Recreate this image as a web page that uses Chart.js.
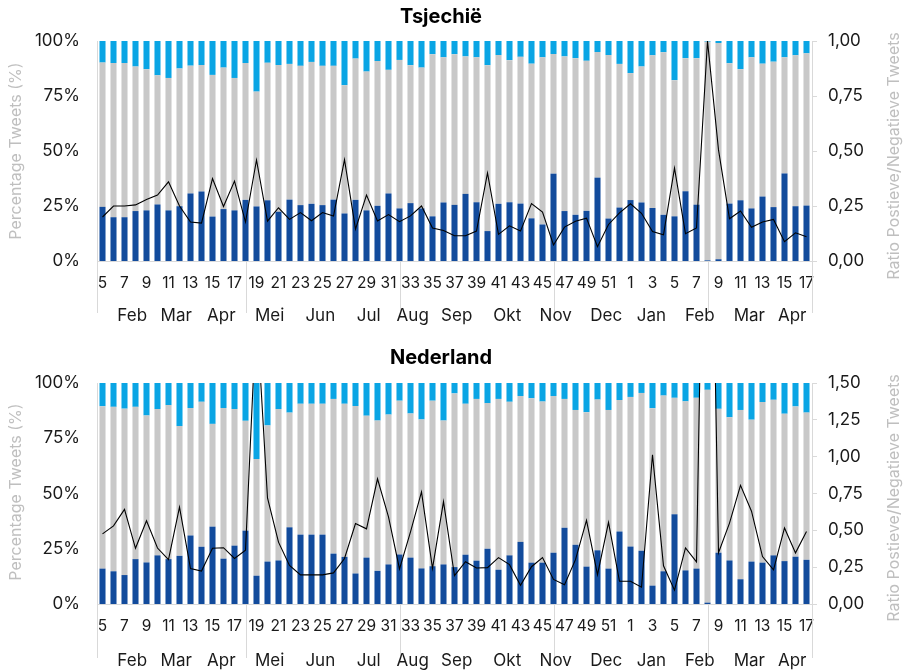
<!DOCTYPE html>
<html>
<head>
<meta charset="utf-8">
<script src="https://cdn.jsdelivr.net/npm/chart.js@4"></script>
<style>
html,body{margin:0;padding:0;background:#fff;overflow:hidden;}
canvas{display:block;}
</style>
</head>
<body>
<canvas id="cz" width="905" height="340"></canvas>
<canvas id="nl" width="905" height="330"></canvas>
<script>
// ---- data ----
const weeks = ['5','6','7','8','9','10','11','12','13','14','15','16','17','18','19','20','21','22','23','24','25','26','27','28','29','30','31','32','33','34','35','36','37','38','39','40','41','42','43','44','45','46','47','48','49','50','51','52',
  '1','2','3','4','5','6','7','8','9','10','11','12','13','14','15','16','17'];
const monthLabels = ['Feb','Mar','Apr','Mei','Jun','Jul','Aug','Sep','Okt','Nov','Dec','Jan','Feb','Mar','Apr'];

// Tsjechië: share of tweets (%) per week, and ratio
const czNeg = [24.6,19.9,19.9,22.7,23.0,25.7,23.0,24.9,30.7,31.6,20.2,23.6,23.0,27.8,24.8,27.6,22.4,27.9,25.4,26.0,25.4,27.9,21.6,27.8,23.0,25.1,30.7,23.9,26.3,23.9,20.3,26.6,25.5,30.5,26.7,13.6,26.0,26.7,26.1,19.4,16.6,39.7,22.7,21.0,22.8,37.9,19.3,24.3,
  27.7,26.6,24.1,21.0,20.3,31.7,25.6,0.3,0.8,26.1,27.6,23.9,29.3,24.5,39.8,24.9,25.2];
const czNeu = [65.6,70.1,70.1,65.7,64.2,58.7,60.2,62.6,58.1,57.5,64.4,64.3,60.2,62.2,52.2,62.5,66.7,61.7,63.3,64.5,63.3,60.8,58.3,64.2,63.1,65.8,56.2,67.5,62.7,64.0,73.7,66.0,68.5,62.5,65.9,75.4,67.6,64.6,66.7,70.3,76.0,54.4,70.3,71.2,68.2,57.1,74.3,65.3,
  57.7,61.8,69.4,73.9,61.9,60.5,66.6,99.4,98.3,63.8,59.6,68.7,60.4,66.1,52.8,68.6,69.2];
const czPos = [9.8,10.0,10.0,11.6,12.8,15.6,16.8,12.5,11.2,10.9,15.4,12.1,16.8,10.0,23.0,9.9,10.9,10.4,11.3,9.5,11.3,11.3,20.1,8.0,13.9,9.1,13.1,8.6,11.0,12.1,6.0,7.4,6.0,7.0,7.4,11.0,6.4,8.7,7.2,10.3,7.4,5.9,7.0,7.8,9.0,5.0,6.4,10.4,
  14.6,11.6,6.5,5.1,17.8,7.8,7.8,0.3,0.9,10.1,12.8,7.4,10.3,9.4,7.4,6.5,5.6];
const czRatio = [0.20,0.25,0.25,0.255,0.28,0.30,0.36,0.25,0.177,0.172,0.375,0.248,0.363,0.177,0.459,0.181,0.242,0.189,0.22,0.183,0.22,0.204,0.461,0.145,0.30,0.182,0.211,0.179,0.205,0.25,0.15,0.139,0.115,0.115,0.136,0.40,0.121,0.16,0.136,0.261,0.222,0.073,0.154,0.181,0.195,0.065,0.166,0.219,
  0.26,0.217,0.134,0.119,0.422,0.124,0.15,1.0,0.505,0.192,0.227,0.153,0.177,0.189,0.088,0.128,0.11];

// Nederland
const nlNeg = [16.0,14.8,13.1,20.3,18.8,22.0,20.3,21.8,31.0,25.9,35.0,20.5,26.4,33.2,12.8,19.2,19.7,34.7,31.4,31.4,31.4,22.8,21.3,13.8,21.0,15.0,17.9,22.4,21.0,16.1,17.1,17.9,16.7,22.3,19.6,25.0,15.5,22.0,28.1,18.7,18.7,23.2,34.5,26.8,16.9,24.3,16.0,32.8,
  26.0,24.1,8.3,14.8,40.6,15.2,16.0,0.6,23.2,19.7,11.2,19.2,18.7,22.0,19.4,21.4,20.0];
const nlNeu = [73.5,74.4,75.3,68.9,66.5,66.2,69.7,58.7,57.7,65.6,46.5,68.2,61.8,49.7,52.8,61.6,68.5,51.9,59.2,59.2,59.2,70.0,69.3,75.8,64.2,68.0,67.8,69.6,65.2,67.4,74.9,65.1,78.6,68.3,73.2,65.9,77.3,69.5,66.0,74.4,72.9,70.9,58.3,61.0,69.9,68.2,71.8,59.5,
  67.7,71.4,80.3,79.5,52.7,76.5,77.3,96.3,65.1,64.8,76.6,64.2,72.7,70.4,66.7,68.0,66.6];
const nlPos = [10.5,10.8,11.6,10.8,14.7,11.8,10.0,19.5,11.3,8.5,18.5,11.3,11.8,17.1,34.4,19.2,11.8,13.4,9.4,9.4,9.4,7.2,9.4,10.4,14.8,17.0,14.3,8.0,13.8,16.5,8.0,17.0,4.7,9.4,7.2,9.1,7.2,8.5,5.9,6.9,8.4,5.9,7.2,12.2,13.2,7.5,12.2,7.7,
  6.3,4.5,11.4,5.7,6.7,8.3,6.7,3.1,11.7,15.5,12.2,16.6,8.6,7.6,13.9,10.6,13.4];
const nlRatio = [0.476,0.53,0.642,0.378,0.565,0.38,0.302,0.658,0.24,0.224,0.378,0.382,0.309,0.365,2.0,0.72,0.42,0.262,0.198,0.198,0.198,0.211,0.309,0.546,0.51,0.85,0.592,0.238,0.49,0.761,0.242,0.695,0.192,0.287,0.244,0.247,0.315,0.267,0.127,0.253,0.315,0.167,0.131,0.301,0.568,0.199,0.554,0.154,
  0.154,0.114,1.013,0.259,0.094,0.381,0.286,4.5,0.348,0.549,0.805,0.63,0.322,0.232,0.516,0.347,0.492];

// ---- layout helpers (category positions, not data) ----
const monthPos = [2.7,6.7,10.8,15.2,19.8,24.2,28.2,32.2,36.8,41.2,45.8,49.9,54.3,58.8,62.7];
const sepPos = [-0.5,13,27,41,55,64.5];

const FONT = 'Inter, "Noto Sans", sans-serif';
const DARK = '#124B9C', GREY = '#C8C8C8', LIGHT = '#0AA5E4', AXIS = '#D9D9D9', TXT = '#1a1a1a';

const decor = {
  id: 'decor',
  afterDraw(chart, args, o) {
    const ctx = chart.ctx, ca = chart.chartArea, x = chart.scales.x;
    ctx.save();
    ctx.strokeStyle = AXIS; ctx.lineWidth = 1;
    sepPos.forEach(p => {
      const px = Math.round(x.getPixelForValue(p)) + 0.5;
      ctx.beginPath(); ctx.moveTo(px, ca.bottom); ctx.lineTo(px, ca.bottom + o.sepLen); ctx.stroke();
    });
    ctx.fillStyle = TXT; ctx.font = '17px ' + FONT; ctx.textAlign = 'center'; ctx.textBaseline = 'middle';
    monthLabels.forEach((m, i) => ctx.fillText(m, x.getPixelForValue(monthPos[i]), ca.bottom + o.monthDy));
    ctx.font = 'bold 20px ' + FONT; ctx.fillStyle = '#000';
    ctx.fillText(o.title, 441, o.titleY);
    ctx.font = '16px ' + FONT; ctx.fillStyle = '#BFBFBF';
    ctx.save(); ctx.translate(16, o.leftTitleY); ctx.rotate(-Math.PI / 2);
    ctx.fillText('Percentage Tweets (%)', 0, 0); ctx.restore();
    ctx.save(); ctx.translate(894, o.rightTitleY); ctx.rotate(-Math.PI / 2);
    ctx.fillText('Ratio Postieve/Negatieve Tweets', 0, 0); ctx.restore();
    ctx.restore();
  }
};

function makeChart(id, neg, neu, pos, ratio, rmax, o) {
  new Chart(document.getElementById(id), {
    data: {
      labels: weeks,
      datasets: [
        { type: 'line', data: ratio, yAxisID: 'y1', borderColor: '#000', borderWidth: 1.1, pointRadius: 0, tension: 0, order: 0 },
        { type: 'bar', data: neg, yAxisID: 'y', backgroundColor: DARK, barPercentage: 0.55, categoryPercentage: 1, order: 1 },
        { type: 'bar', data: neu, yAxisID: 'y', backgroundColor: GREY, barPercentage: 0.55, categoryPercentage: 1, order: 1 },
        { type: 'bar', data: pos, yAxisID: 'y', backgroundColor: LIGHT, barPercentage: 0.55, categoryPercentage: 1, order: 1 }
      ]
    },
    options: {
      responsive: false, animation: false, devicePixelRatio: 1,
      layout: { padding: { top: o.top, left: 0, right: 0, bottom: 0 } },
      plugins: { legend: { display: false }, tooltip: { enabled: false }, title: { display: false }, decor: o },
      scales: {
        x: {
          stacked: true, offset: true,
          grid: { display: false, drawTicks: false },
          border: { display: true, color: AXIS },
          ticks: { autoSkip: false, maxRotation: 0, minRotation: 0, padding: 13, color: TXT, font: { family: FONT, size: 15.5 },
            callback: function (v, i) { return i % 2 === 0 ? this.getLabelForValue(v) : ''; } },
          afterFit: s => { s.height = o.xh; }
        },
        y: {
          stacked: true, min: 0, max: 100, position: 'left',
          grid: { display: false, drawTicks: false },
          border: { display: true, color: AXIS },
          ticks: { stepSize: 25, padding: 17, color: TXT, font: { family: FONT, size: 17 }, callback: v => v + '%' },
          afterFit: s => { s.width = 97; }
        },
        y1: {
          stacked: false, min: 0, max: rmax, position: 'right',
          grid: { display: true, drawOnChartArea: false, drawTicks: true, tickLength: 5, color: AXIS },
          border: { display: true, color: AXIS },
          ticks: { stepSize: 0.25, padding: 11, color: TXT, font: { family: FONT, size: 17 }, callback: v => v.toFixed(2).replace('.', ',') },
          afterFit: s => { s.width = 93; }
        }
      }
    },
    plugins: [decor]
  });
}

makeChart('cz', czNeg, czNeu, czPos, czRatio, 1.0,
  { title: 'Tsjechië', titleY: 17, top: 41, xh: 79, sepLen: 52, monthDy: 55, leftTitleY: 151, rightTitleY: 156 });
makeChart('nl', nlNeg, nlNeu, nlPos, nlRatio, 1.5,
  { title: 'Nederland', titleY: 18, top: 43, xh: 66, sepLen: 54, monthDy: 57, leftTitleY: 152, rightTitleY: 158 });
</script>
</body>
</html>
